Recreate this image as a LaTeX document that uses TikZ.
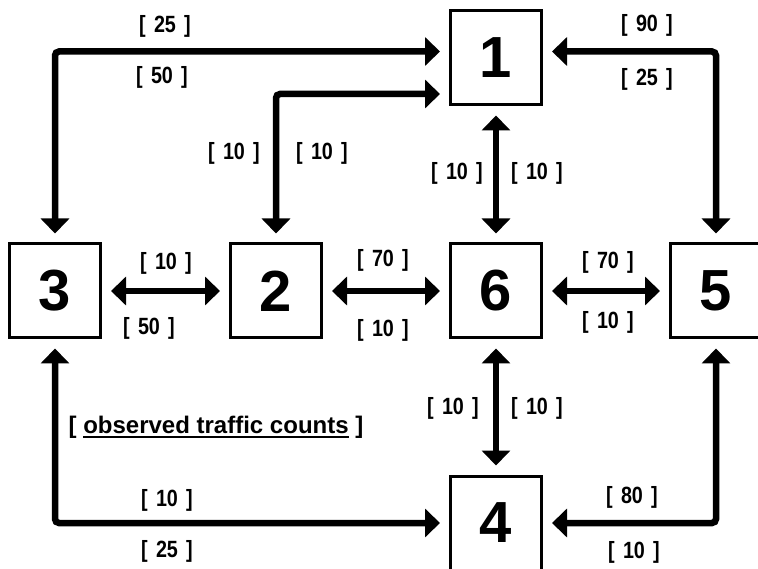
\documentclass[tikz,border=0pt]{standalone}
\usepackage{fontspec}
\usetikzlibrary{arrows.meta}
\newfontfamily\boxfont{Liberation Sans Bold}
\newfontfamily\cntfont[FakeStretch=0.84,WordSpace=1.5]{Liberation Sans Bold}
\newfontfamily\keyfont{Liberation Sans Bold}
\newcommand\uln[1]{\setbox0\hbox{#1}\rlap{\vrule height -3pt depth 4.8pt width \wd0}\box0\relax}
\tikzset{
  zone/.style={draw, line width=3pt, minimum width=91pt, minimum height=94pt,
    inner sep=0pt, outer sep=10.5pt, font=\boxfont\fontsize{58}{58}\selectfont},
  count/.style={inner sep=0pt, font=\cntfont\fontsize{23.5}{23.5}\selectfont},
  flow/.style={line width=6.5pt, rounded corners=4pt,
    {Triangle[length=15pt,width=28pt]}-{Triangle[length=15pt,width=28pt]}},
}
\begin{document}
\begin{tikzpicture}[x=1pt,y=-1pt]
\useasboundingbox (0,0) rectangle (758,569);
\clip (0,0) rectangle (758,569);
%
% zonas
\node[zone] (1) at (496,58) {1};
\node[zone] (3) at (55,291) {3};
\node[zone] (2) at (276,291) {2};
\node[zone] (6) at (496,291) {6};
\node[zone] (5) at (716,291) {5};
\node[zone] (4) at (496,523) {4};
%
% flujos
\draw[flow] (3.north) |- ([yshift=6.5pt]1.west);
\draw[flow] (2.north) |- ([yshift=-36pt]1.west);
\draw[flow] ([yshift=6.5pt]1.east) -| (5.north);
\draw[flow] (1.south) -- (6.north);
\draw[flow] (3.east) -- (2.west);
\draw[flow] (2.east) -- (6.west);
\draw[flow] (6.east) -- (5.west);
\draw[flow] (6.south) -- (4.north);
\draw[flow] (3.south) |- (4.west);
\draw[flow] (5.south) |- (4.east);
%
% conteos
\node[count] (c1) at (165,26) {[ 25 ]};
\node[count] (c2) at (162,77) {[ 50 ]};
\node[count] (c3) at (234,153) {[ 10 ]};
\node[count] (c4) at (322,153) {[ 10 ]};
\node[count] (c5) at (647,25) {[ 90 ]};
\node[count] (c6) at (647,79) {[ 25 ]};
\node[count] (c7) at (457,173) {[ 10 ]};
\node[count] (c8) at (537,173) {[ 10 ]};
\node[count] (c9) at (166,263) {[ 10 ]};
\node[count] (c10) at (149,328) {[ 50 ]};
\node[count] (c11) at (383,260) {[ 70 ]};
\node[count] (c12) at (383,330) {[ 10 ]};
\node[count] (c13) at (608,262) {[ 70 ]};
\node[count] (c14) at (608,322) {[ 10 ]};
\node[count] (c15) at (453,408) {[ 10 ]};
\node[count] (c16) at (537,408) {[ 10 ]};
\node[count] (c17) at (167,500) {[ 10 ]};
\node[count] (c18) at (167,551) {[ 25 ]};
\node[count] (c19) at (632,497) {[ 80 ]};
\node[count] (c20) at (634,552) {[ 10 ]};
%
\node[count, anchor=base, font=\keyfont\fontsize{24}{24}\selectfont] (key) at (216,433)
  {[ \uln{observed traffic counts} ]};
%
\end{tikzpicture}
\end{document}
